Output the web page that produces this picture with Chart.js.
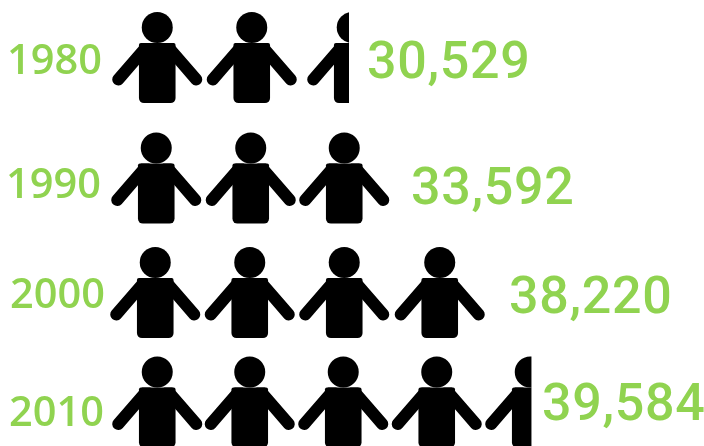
<!DOCTYPE html>
<html>
<head>
<meta charset="utf-8">
<style>
  html, body { margin: 0; padding: 0; background: #fff; }
</style>
<script src="https://cdn.jsdelivr.net/npm/chart.js@4/dist/chart.umd.min.js"></script>
</head>
<body>
<canvas id="peopleChart" width="704" height="446"></canvas>
<script>
const years = ['1980', '1990', '2000', '2010'];
const iconCounts = [2.53, 3, 4, 4.46];
const valueLabels = ['30,529', '33,592', '38,220', '39,584'];

// hand placed rows in the original, so each one needs a small nudge
const rowNudge = [-3.5, 7, 11.5, 11];
const iconNudge = [[0, 0, 6], [-1, -1, -2], [-2, -2, -2, -1], [0, -2, -3, -4, -5]];
const yearNudge = [[102, 5], [101, 8], [105, 4], [104, 12.5]];
const valueNudge = [[367, 7], [411, 13], [509, 7], [542, 5]];

const GREEN = '#90d350';

function drawPerson(ctx, cx, cy) {
  ctx.save();
  ctx.translate(cx, cy - 30);
  ctx.fillStyle = '#000';
  ctx.strokeStyle = '#000';
  ctx.beginPath();
  ctx.arc(0, 0, 15.5, 0, Math.PI * 2);
  ctx.fill();
  ctx.beginPath();
  ctx.roundRect(-18.3, 15.6, 36.6, 60, [2, 2, 5, 5]);
  ctx.fill();
  // arms, cut flat at the shoulder line
  ctx.beginPath();
  ctx.rect(-60, 15.6, 120, 80);
  ctx.clip();
  ctx.lineWidth = 12;
  ctx.lineCap = 'round';
  ctx.beginPath();
  ctx.moveTo(-39, 52);
  ctx.lineTo(-11, 19.6);
  ctx.moveTo(39, 52);
  ctx.lineTo(11, 19.6);
  ctx.stroke();
  ctx.restore();
}

const pictogram = {
  id: 'pictogram',
  afterDatasetsDraw(chart) {
    const ctx = chart.ctx;
    const xScale = chart.scales.x;
    chart.getDatasetMeta(0).data.forEach((bar, i) => {
      const y = bar.y + rowNudge[i];
      ctx.save();
      ctx.beginPath();
      ctx.rect(bar.base - 5, 0, bar.x - bar.base + 5, chart.height);
      ctx.clip();
      for (let n = 0; n < Math.ceil(iconCounts[i]); n++) {
        const x = xScale.getPixelForValue(n + 0.5) + iconNudge[i][n];
        drawPerson(ctx, x, y);
      }
      ctx.restore();

      ctx.fillStyle = GREEN;
      ctx.textBaseline = 'middle';
      ctx.textAlign = 'right';
      ctx.font = '600 41.5px "Open Sans"';
      ctx.letterSpacing = '0px';
      ctx.fillText(years[i], yearNudge[i][0], y + yearNudge[i][1]);
      ctx.textAlign = 'left';
      ctx.font = '500 52px Roboto';
      ctx.letterSpacing = '0.7px';
      ctx.fillText(valueLabels[i], valueNudge[i][0], y + valueNudge[i][1]);
    });
  }
};

new Chart(document.getElementById('peopleChart').getContext('2d'), {
  type: 'bar',
  data: {
    labels: years,
    datasets: [{ data: iconCounts, backgroundColor: 'rgba(0,0,0,0)' }]
  },
  options: {
    indexAxis: 'y',
    responsive: false,
    animation: false,
    layout: { padding: { left: 110, top: 6 } },
    plugins: { legend: { display: false }, tooltip: { enabled: false } },
    scales: {
      x: { display: false, min: 0, max: 6.286 },
      y: { display: false }
    }
  },
  plugins: [pictogram]
});
</script>
</body>
</html>
